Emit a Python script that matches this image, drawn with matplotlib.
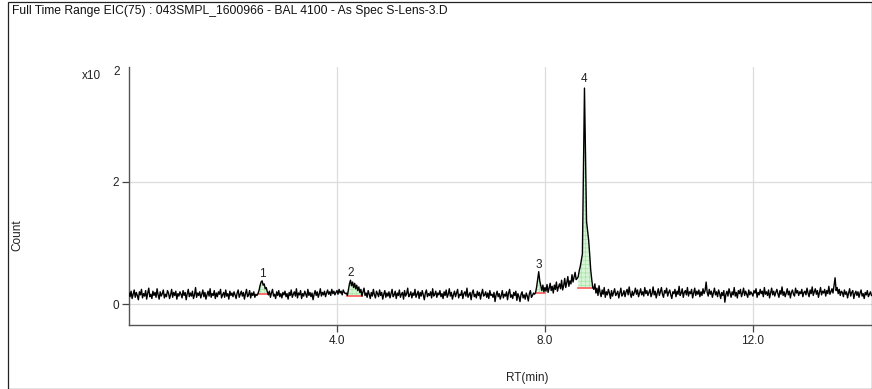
import numpy as np
import matplotlib
matplotlib.use("Agg")
import matplotlib.pyplot as plt
from matplotlib.patches import Rectangle

plt.rcParams['font.family'] = ['Liberation Sans', 'DejaVu Sans']
plt.rcParams['hatch.linewidth'] = 0.5

# ---- data (counts), sampled every 0.02 min ----
rt_step = 0.02
counts_m0 = [18, 12, 21, 9, 16, 23, 11, 19, 14, 7, 20, 15, 24, 10, 17, 13, 22, 8, 18, 26,
             12, 16, 9, 21, 14, 19, 11, 25, 15, 8, 20, 13, 17, 23, 10, 16, 12, 22, 18, 9,
             15, 24, 11, 19, 14, 21, 8, 17, 13, 20]
counts_m1 = [16, 10, 22, 14, 19, 7, 17, 24, 12, 18, 13, 21, 9, 15, 27, 11, 18, 14, 20, 10,
             16, 23, 12, 19, 8, 15, 21, 13, 25, 11, 17, 14, 22, 9, 18, 12, 20, 16, 24, 10,
             15, 19, 11, 23, 13, 17, 8, 21, 14, 18]
counts_m2 = [12, 20, 15, 9, 18, 23, 11, 16, 21, 13, 19, 8, 17, 24, 12, 15, 22, 10, 18, 14,
             20, 11, 16, 14, 17, 22, 30, 36, 38, 31, 33, 25, 27, 20, 15,
             21, 11, 18, 24, 13, 16, 9, 20, 14, 22, 12, 17, 10, 19, 15]
counts_m3 = [21, 12, 17, 8, 19, 14, 23, 11, 16, 20, 13, 25, 10, 18, 15, 22, 9, 17, 13, 21,
             16, 11, 24, 14, 19, 12, 18, 7, 16, 22, 14, 20, 11, 17, 25, 13, 19, 15, 21, 12,
             18, 23, 16, 20, 14, 24, 17, 21, 15, 19]
counts_m4 = [22, 16, 24, 18, 21, 15, 23, 19, 17,
             18, 14, 24, 33, 39, 30, 36, 27, 34, 25, 31, 22, 28, 19, 24, 13,
             20, 26, 14, 18, 11, 22, 16, 9, 19, 13, 24, 15, 10, 21, 17, 12, 23, 14, 19, 8,
             16, 22, 11, 18, 13]
counts_m5 = [20, 10, 17, 24, 12, 15, 21, 9, 18, 14, 23, 11, 16, 19, 8, 22, 13, 17, 26, 12,
             15, 20, 10, 18, 14, 24, 11, 16, 21, 9, 19, 13, 22, 15, 7, 18, 23, 12, 17, 14,
             20, 10, 25, 13, 16, 21, 11, 18, 15, 22]
counts_m6 = [12, 17, 9, 20, 14, 23, 11, 16, 25, 13, 19, 8, 15, 21, 12, 18, 24, 10, 16, 14,
             22, 9, 17, 20, 13, 26, 11, 15, 19, 7, 18, 23, 12, 16, 10, 21, 14, 19, 8, 17,
             24, 13, 15, 20, 11, 18, 9, 22, 14, 16]
counts_m7 = [11, 19, 4, 15, 21, 12, 17, 8, 14, 22, 10, 16, 13, 20, 7, 18, 24, 11, 15, 9,
             19, 14, 21, 6, 17, 12, 4, 16, 20, 10, 15, 8, 18, 13, 5, 17, 22, 11, 14, 18,
             16, 19, 28, 40, 53, 38, 30, 22, 31, 20]
counts_m8 = [27, 21, 32, 19, 26, 34, 22, 29, 18, 31, 24, 36, 21, 28, 33, 25, 39, 23, 30, 42,
             27, 35, 45, 29, 38, 33, 48, 36, 44, 52, 40,
             42, 45, 55, 62, 72, 82, 220, 354, 250, 135, 120, 105, 82, 56, 40, 27, 24, 33, 18]
counts_m9 = [26, 14, 30, 19, 12, 23, 16, 27, 11, 20, 15, 24, 18, 9, 22, 13, 19, 25, 14, 17,
             21, 10, 18, 26, 13, 16, 22, 12, 20, 24, 15, 28, 17, 11, 21, 14, 19, 26, 16, 23,
             12, 18, 25, 15, 20, 13, 27, 17, 22, 14]
counts_m10 = [19, 24, 12, 17, 28, 15, 21, 10, 18, 25, 14, 20, 27, 16, 11, 22, 18, 26, 13, 19,
              23, 15, 9, 20, 17, 24, 12, 21, 16, 29, 14, 18, 25, 11, 19, 22, 15, 27, 13, 20,
              17, 24, 10, 18, 26, 14, 21, 16, 23, 12]
counts_m11 = [20, 14, 25, 17, 22, 36, 19, 13, 24, 16, 21, 11, 18, 26, 15, 20, 12, 23, 17, 9,
              19, 14, 22, 3, 16, 21, 13, 25, 18, 11, 20, 15, 27, 13, 19, 10, 22, 17, 24, 12,
              18, 26, 14, 21, 16, 11, 23, 15, 20, 17]
counts_m12 = [13, 22, 18, 25, 11, 19, 15, 24, 17, 21, 12, 27, 16, 20, 14, 23, 10, 18, 26, 15,
              21, 13, 19, 24, 17, 11, 22, 16, 28, 14, 20, 12, 18, 25, 15, 21, 10, 19, 23, 16,
              13, 26, 18, 22, 14, 20, 17, 24, 12, 19]
counts_m13 = [21, 15, 26, 18, 12, 23, 17, 28, 14, 20, 25, 16, 22, 11, 19, 27, 15, 21, 18, 24,
              13, 22, 17, 29, 16, 20, 25, 18, 30, 43, 22, 27, 17, 24, 14, 21, 19, 12, 23, 16,
              20, 10, 18, 25, 13, 19, 22, 9, 17, 21]
counts_m14 = [14, 20, 11, 18, 23, 13, 17, 9, 19, 15, 22, 12, 16, 20, 14]

peak_labels = ["1", "2", "3", "4"]
peak_label_rt = [2.56, 4.27, 7.88, 8.76]
peak_label_level = [0.49, 0.51, 0.64, 3.69]   # x10^2 counts
peak_starts = [2.48, 4.19, 7.82, 8.64]
peak_ends = [2.67, 4.48, 8.01, 8.92]
peak_bases = [17, 13, 18.5, 27]

x_ticks = [4.0, 8.0, 12.0]
x_tick_labels = ["4.0", "8.0", "12.0"]
y_ticks = [0, 2]
y_tick_labels = ["0", "2"]

title = "Full Time Range EIC(75) : 043SMPL_1600966 - BAL 4100 - As Spec S-Lens-3.D"

counts = np.array(counts_m0 + counts_m1 + counts_m2 + counts_m3 + counts_m4 + counts_m5 +
                  counts_m6 + counts_m7 + counts_m8 + counts_m9 + counts_m10 + counts_m11 +
                  counts_m12 + counts_m13 + counts_m14, dtype=float)
rt = np.arange(len(counts)) * rt_step
y = counts / 100.0  # plotted in units of 10^2

W, H = 872, 389
fig = plt.figure(figsize=(W / 100, H / 100), dpi=100)
ax = fig.add_axes([129 / W, 1 - 325 / H, (W - 129) / W, (325 - 67) / H])

# grid
for xt in x_ticks:
    ax.axvline(xt, color='#dcdcdc', lw=0.9, zorder=0)
for yt in y_ticks:
    ax.axhline(yt, color='#dcdcdc', lw=0.9, zorder=0)

# integrated peak fills and baselines
for s, e, b in zip(peak_starts, peak_ends, peak_bases):
    xs = np.concatenate([[s], rt[(rt > s) & (rt < e)], [e]])
    ys = np.interp(xs, rt, y)
    ax.fill_between(xs, b / 100.0, ys, where=ys >= b / 100.0, interpolate=True,
                    facecolor='#d6f5d6', edgecolor='#a6e3a6', hatch='++++', lw=0, zorder=1)
    ax.plot([s, e], [b / 100.0, b / 100.0], color='#ff5a5a', lw=1.2, zorder=2)

ax.plot(rt, y, color='black', lw=1.0, zorder=3)

for lab, prt, lv in zip(peak_labels, peak_label_rt, peak_label_level):
    ax.text(prt, lv, lab, ha='center', va='center', fontsize=8.5, color='#222222')

ax.set_xlim(0, 14.29)
ax.set_ylim(-0.344, 3.885)
ax.set_xticks(x_ticks)
ax.set_xticklabels(x_tick_labels)
ax.set_yticks(y_ticks)
ax.set_yticklabels(y_tick_labels)
ax.tick_params(axis='both', direction='out', length=5, width=0.9, colors='#444444',
               labelcolor='#222222', labelsize=8.5, pad=2)
for side in ['top', 'right']:
    ax.spines[side].set_visible(False)
for side in ['left', 'bottom']:
    ax.spines[side].set_color('#555555')
    ax.spines[side].set_linewidth(1.0)

# texts
fig.text(12 / W, 1 - 11 / H, title, ha='left', va='center', fontsize=8.7, color='#111111')
fig.text(91 / W, 1 - 76 / H, "x10", ha='center', va='center', fontsize=8.5, color='#222222')
fig.text(117 / W, 1 - 72 / H, "2", ha='center', va='center', fontsize=8.5, color='#222222')
fig.text(17 / W, 1 - 235 / H, "Count", ha='center', va='center', rotation=90, fontsize=8.5, color='#222222')
fig.text(527 / W, 1 - 378 / H, "RT(min)", ha='center', va='center', fontsize=8.5, color='#222222')

# outer frame
fig.patches.append(Rectangle((7.5 / W, 0.5 / H), (871.5 - 7.5) / W, (387.5 - 0.5) / H,
                             transform=fig.transFigure, fill=False, edgecolor='#222222', lw=0.9))

fig.savefig("out.png", dpi=100)
